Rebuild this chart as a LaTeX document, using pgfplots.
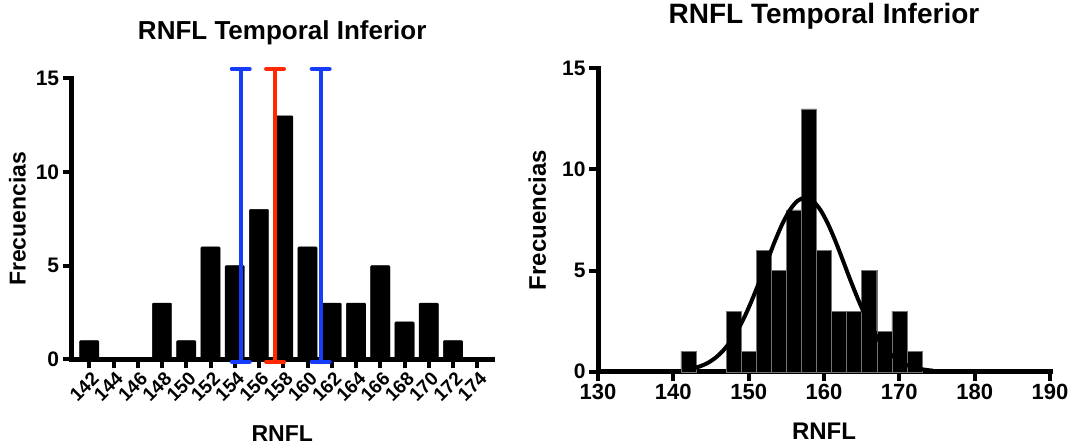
\documentclass[border=0pt]{standalone}
\usepackage{fontspec}
\setmainfont{Liberation Sans}
\usepackage{pgfplots}
\pgfplotsset{compat=1.18}
\definecolor{eblue}{RGB}{20,60,250}
\definecolor{ered}{RGB}{255,40,0}
\newcommand{\fs}[1]{\bfseries\fontsize{#1}{#1}\selectfont}
\pgfplotsset{
  myax/.style={
    scale only axis,
    anchor=south west,
    axis x line=bottom, axis y line=left,
    axis line style={line width=5pt,-,line cap=rect},
    tick align=outside,
    major tick length=9pt,
    every tick/.style={line width=4pt,black},
    /pgf/number format/assume math mode=true,
    ymin=0, ymax=15, ytick={0,5,10,15},
    yticklabel style={font=\fs{21}},
    clip=false,
  }
}
\begin{document}
\begin{tikzpicture}
\useasboundingbox (0,0) rectangle (1074pt,445pt);
% ---------- left ----------
\begin{axis}[myax,
  at={(71.7pt,85.7pt)}, width=421pt, height=281pt,
  xmin=140.55, xmax=175.27,
  xtick={142,144,...,174},
  xticklabel style={font=\fs{19}, rotate=45, anchor=north east, inner sep=0.5pt, xshift=0pt, yshift=-2pt},
  title={RNFL Temporal Inferior},
  title style={font=\fs{26}, at={(axis description cs:0.5,1.1185)}, anchor=base},
  xlabel={RNFL},
  xlabel style={font=\fs{23}, at={(axis description cs:0.5,-0.293)}, anchor=base},
  ylabel={Frecuencias},
  ylabel style={font=\fs{23}, at={(axis description cs:-0.129,0.5)}, anchor=center, rotate=0},
]
\addplot[ybar, bar width=1.6, fill=black, draw=black, rounded corners=1pt] coordinates {
(142,1) (148,3) (150,1) (152,6) (154,5) (156,8) (158,13) (160,6)
(162,3) (164,3) (166,5) (168,2) (170,3) (172,1)};
% error-bar style lines (lower, mean, upper)
\addplot[eblue, line width=4pt, line cap=round] coordinates {(154.49,-0.13) (154.49,15.5)};
\addplot[eblue, line width=4pt, line cap=round] coordinates {(153.75,15.5) (155.23,15.5)};
\addplot[eblue, line width=4pt, line cap=round] coordinates {(153.75,-0.13) (155.23,-0.13)};
\addplot[ered, line width=4pt, line cap=round] coordinates {(157.32,-0.13) (157.32,15.5)};
\addplot[ered, line width=4pt, line cap=round] coordinates {(156.58,15.5) (158.06,15.5)};
\addplot[ered, line width=4pt, line cap=round] coordinates {(156.58,-0.13) (158.06,-0.13)};
\addplot[eblue, line width=4pt, line cap=round] coordinates {(161.08,-0.13) (161.08,15.5)};
\addplot[eblue, line width=4pt, line cap=round] coordinates {(160.34,15.5) (161.82,15.5)};
\addplot[eblue, line width=4pt, line cap=round] coordinates {(160.34,-0.13) (161.82,-0.13)};
\end{axis}
% ---------- right ----------
\begin{axis}[myax,
  at={(598pt,73.3pt)}, width=452pt, height=303.4pt,
  xmin=130, xmax=190,
  xtick={130,140,...,190},
  xticklabel style={font=\fs{22}},
  title={RNFL Temporal Inferior},
  title style={font=\fs{28}, at={(axis description cs:0.5,1.1295)}, anchor=base},
  xlabel={RNFL},
  xlabel style={font=\fs{24}, at={(axis description cs:0.5,-0.225)}, anchor=base},
  ylabel={Frecuencias},
  ylabel style={font=\fs{24}, at={(axis description cs:-0.1344,0.5)}, anchor=center, rotate=0},
]
\addplot[ybar, bar width=2, fill=black, draw=black!55, line width=0.4pt] coordinates {
(142,1) (148,3) (150,1) (152,6) (154,5) (156,8) (158,13) (160,6)
(162,3) (164,3) (166,5) (168,2) (170,3) (172,1)};
\addplot[black, line width=4pt, smooth] coordinates {
(142.5,0.16) (143.5,0.26) (144.5,0.42) (145.5,0.66) (146.5,1.00) (147.5,1.45)
(148.5,2.03) (149.5,2.75) (150.5,3.60) (151.5,4.53) (152.5,5.51) (153.5,6.47)
(154.5,7.33) (155.5,8.01) (156.5,8.45) (157.5,8.60) (158.5,8.45) (159.5,8.01)
(160.5,7.33) (161.5,6.47) (162.5,5.51) (163.5,4.53) (164.5,3.60) (165.5,2.75)
(166.5,2.03) (167.5,1.45) (168.5,1.00) (169.5,0.66) (170.5,0.42) (171.5,0.26)
(172.5,0.16) (173.5,0.09) (174.5,0.05)};
\end{axis}
\end{tikzpicture}
\end{document}
